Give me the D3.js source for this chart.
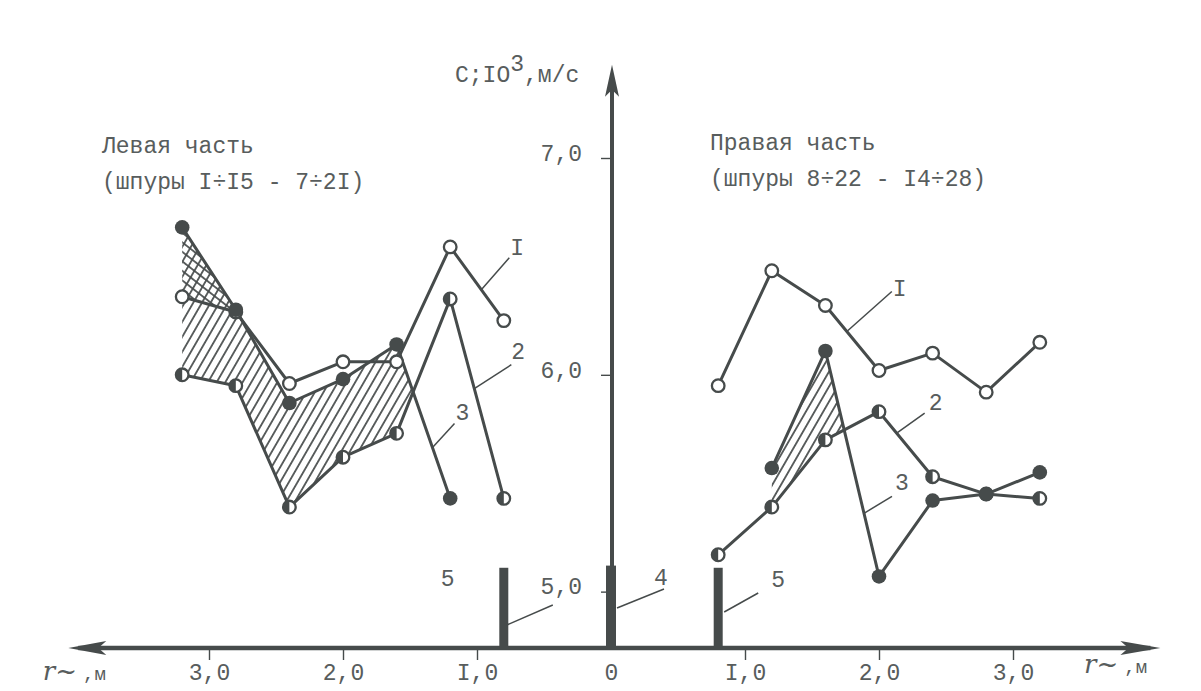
<!DOCTYPE html>
<html>
<head>
<meta charset="utf-8">
<script src="https://cdn.jsdelivr.net/npm/d3@7"></script>
<style>
  html, body { margin: 0; padding: 0; background: #ffffff; }
  svg { display: block; }
  text { font-family: "Liberation Mono", "DejaVu Sans Mono", monospace; fill: #585d5d; }
</style>
</head>
<body>
<svg id="chart" width="1201" height="691"></svg>
<script>
// ---------- data ----------
const distances = [0.8, 1.2, 1.6, 2.0, 2.4, 2.8, 3.2];          // r, m (both sides)
// Left part (шпуры I÷I5 - 7÷2I)
const leftCurve1 = [6.25, 6.59, 6.06, 6.06, 5.96, 6.29, 6.36];   // open circles, "I"
const leftCurve2 = [5.43, 6.35, 5.73, 5.62, 5.39, 5.95, 6.00];   // half-filled, "2"
const leftCurve3 = [null, 5.43, 6.14, 5.98, 5.87, 6.30, 6.68];   // filled, "3"
// Right part (шпуры 8÷22 - I4÷28)
const rightCurve1 = [5.95, 6.48, 6.32, 6.02, 6.10, 5.92, 6.15];
const rightCurve2 = [5.17, 5.39, 5.70, 5.83, 5.53, 5.45, 5.43];
const rightCurve3 = [null, 5.57, 6.11, 5.07, 5.42, 5.45, 5.55];
// Bars 4 (centre) and 5 (both sides)
const barPositions = [-0.8, 0, 0.8];
const barTops = [5.11, 5.12, 5.11];
const barLabels = ["5", "4", "5"];
// Axis ticks
const xTickValues = [-3, -2, -1, 0, 1, 2, 3];
const yTickValues = [5, 6, 7];
const yAxisTitle = ["C;IO", "3", ",м/с"];
const xAxisTitle = ["r", ",м"];
const leftTitle = ["Левая часть", "(шпуры I÷I5 - 7÷2I)"];
const rightTitle = ["Правая часть", "(шпуры 8÷22 - I4÷28)"];

// ---------- setup ----------
const svg = d3.select("#chart");
const INK = "#464b4b";
const TXT = "#585d5d";
const x = d3.scaleLinear().domain([-4, 4]).range([75, 1147]);
const y = d3.scaleLinear().domain([4.74, 7]).range([648, 158]);
const axisY = y(4.74);
const axisX = x(0);
const fmt = v => v === 0 ? "0" : Math.abs(v).toFixed(1).replace(".", ",").replace(/1/g, "I");

const defs = svg.append("defs");
function hatch(id, angle, horizontal) {
  const p = defs.append("pattern").attr("id", id).attr("patternUnits", "userSpaceOnUse")
    .attr("width", 7.5).attr("height", 7.5).attr("patternTransform", `rotate(${angle})`);
  if (horizontal) p.append("line").attr("x1", 0).attr("x2", 7.5).attr("y1", 3.75).attr("y2", 3.75);
  else p.append("line").attr("x1", 3.75).attr("x2", 3.75).attr("y1", 0).attr("y2", 7.5);
  p.select("line").attr("stroke", INK).attr("stroke-width", 1.7);
}
hatch("hatchSlash", 30, false);
hatch("hatchBack", 38, true);

// ---------- hatched regions (between two curves until they cross) ----------
function regionPoints(side, upper, lower, start, step) {
  const top = [], bot = [];
  let i = start;
  while (i >= 0 && i < distances.length && upper[i] != null && lower[i] != null) {
    const d = upper[i] - lower[i];
    if (d < 0) {
      const j = i - step;
      const dPrev = upper[j] - lower[j];
      const t = dPrev / (dPrev - d);
      const r = distances[j] + t * (distances[i] - distances[j]);
      const v = upper[j] + t * (upper[i] - upper[j]);
      top.push([x(side * r), y(v)]);
      break;
    }
    top.push([x(side * distances[i]), y(upper[i])]);
    bot.push([x(side * distances[i]), y(lower[i])]);
    i += step;
  }
  return top.concat(bot.reverse());
}
const regions = [
  {pts: regionPoints(-1, leftCurve3, leftCurve2, 6, -1), fill: "url(#hatchSlash)"},
  {pts: regionPoints(-1, leftCurve3, leftCurve1, 6, -1), fill: "url(#hatchBack)"},
  {pts: regionPoints(1, rightCurve3, rightCurve2, 1, 1), fill: "url(#hatchSlash)"}
];
svg.append("g").selectAll("path").data(regions).join("path")
  .attr("d", d => "M" + d.pts.map(p => p.join(",")).join("L") + "Z")
  .attr("fill", d => d.fill).attr("stroke", "none");

// ---------- axes ----------
const gx = svg.append("g").attr("transform", `translate(0,${axisY})`)
  .call(d3.axisBottom(x).tickValues(xTickValues).tickSize(12).tickPadding(4).tickFormat(fmt));
gx.select(".domain").remove();
gx.selectAll(".tick line").attr("stroke", INK).attr("stroke-width", 1.4)
  .attr("opacity", d => d === 0 ? 0 : 1);
gx.selectAll(".tick text").attr("font-size", 23).attr("fill", TXT)
  .attr("font-family", "Liberation Mono, DejaVu Sans Mono, monospace");

const gy = svg.append("g").attr("transform", `translate(${axisX},0)`)
  .call(d3.axisLeft(y).tickValues(yTickValues).tickSize(10).tickPadding(19)
    .tickFormat(v => v.toFixed(1).replace(".", ",")));
gy.select(".domain").remove();
gy.selectAll(".tick line").attr("stroke", INK).attr("stroke-width", 1.4);
gy.selectAll(".tick text").attr("font-size", 23).attr("fill", TXT).attr("dy", "0.1em")
  .attr("font-family", "Liberation Mono, DejaVu Sans Mono, monospace");

// horizontal axis with arrows on both ends
const xL = x(-4.05), xR = x(4.1);
svg.append("line").attr("x1", xL + 10).attr("x2", xR - 10).attr("y1", axisY).attr("y2", axisY)
  .attr("stroke", INK).attr("stroke-width", 4.5);
svg.append("path").attr("d", `M${xL},${axisY} L${xL + 38},${axisY - 7} L${xL + 30},${axisY} L${xL + 38},${axisY + 7} Z`).attr("fill", INK);
svg.append("path").attr("d", `M${xR},${axisY} L${xR - 40},${axisY - 7} L${xR - 32},${axisY} L${xR - 40},${axisY + 7} Z`).attr("fill", INK);
// vertical axis with arrow
const yTop = y(7.43);
svg.append("line").attr("x1", axisX + 1).attr("x2", axisX + 1).attr("y1", axisY).attr("y2", yTop + 10)
  .attr("stroke", INK).attr("stroke-width", 4);
svg.append("path").attr("d", `M${axisX + 1},${yTop} L${axisX - 6},${yTop + 32} L${axisX + 1},${yTop + 25} L${axisX + 8},${yTop + 32} Z`).attr("fill", INK);

// axis titles
const yt = svg.append("text").attr("x", 455).attr("y", 82).attr("font-size", 23);
yt.append("tspan").text(yAxisTitle[0]);
yt.append("tspan").attr("dy", -11).attr("font-size", 23).text(yAxisTitle[1]);
yt.append("tspan").attr("dy", 11).text(yAxisTitle[2]);
[[x(-4.24), 680], [x(3.53), 673]].forEach(([px, py]) => {
  const t = svg.append("text").attr("x", px).attr("y", py);
  t.append("tspan").attr("font-size", 26).attr("font-style", "italic")
    .attr("font-family", "DejaVu Serif, serif").text(xAxisTitle[0] + "~");
  t.append("tspan").attr("font-size", 19).attr("dx", 6).text(xAxisTitle[1]);
});

// side titles
[[102, 153, leftTitle], [710, 150, rightTitle]].forEach(([px, py, lines]) => {
  lines.forEach((s, i) => svg.append("text").attr("x", px).attr("y", py + i * 36)
    .attr("font-size", 23).attr("xml:space", "preserve").text(s));
});

// ---------- bars ----------
svg.append("g").selectAll("rect").data(barPositions).join("rect")
  .attr("x", (d, i) => x(d) - (i === 1 ? 5 : 4.5))
  .attr("width", (d, i) => i === 1 ? 10 : 9)
  .attr("y", (d, i) => y(barTops[i]))
  .attr("height", (d, i) => axisY - y(barTops[i]))
  .attr("fill", INK);

// ---------- curves ----------
const series = [
  {side: -1, vals: leftCurve1, kind: "open"},
  {side: -1, vals: leftCurve2, kind: "half"},
  {side: -1, vals: leftCurve3, kind: "full"},
  {side: 1, vals: rightCurve1, kind: "open"},
  {side: 1, vals: rightCurve2, kind: "half"},
  {side: 1, vals: rightCurve3, kind: "full"}
];
const line = d3.line().defined(d => d.v != null).x(d => x(d.r)).y(d => y(d.v));
series.forEach(s => {
  s.pts = distances.map((r, i) => ({r: s.side * r, v: s.vals[i]}));
});
svg.append("g").selectAll("path").data(series).join("path")
  .attr("d", s => line(s.pts)).attr("fill", "none")
  .attr("stroke", INK).attr("stroke-width", 3).attr("stroke-linejoin", "round");

// ---------- annotation leaders ----------
function along(s, i, t) {
  const a = s.pts[i], b = s.pts[i + 1];
  return [x(a.r + t * (b.r - a.r)), y(a.v + t * (b.v - a.v))];
}
// leader: point on segment i..i+1 of series at fraction t, then offset (dx,dy); label offset (tx,ty)
const notes = [
  {s: 0, i: 0, t: 0.42, dx: 28, dy: -32, tx: 1, ty: -3, label: "I"},
  {s: 1, i: 0, t: 0.55, dx: 37, dy: -24, tx: 0, ty: -6, label: "2"},
  {s: 2, i: 1, t: 0.33, dx: 22, dy: -24, tx: 1, ty: -4, label: "3"},
  {s: 3, i: 2, t: 0.4, dx: 45, dy: -40, tx: 1, ty: 5, label: "I"},
  {s: 4, i: 3, t: 0.33, dx: 28, dy: -20, tx: 4, ty: -3, label: "2"},
  {s: 5, i: 2, t: 0.72, dx: 28, dy: -17, tx: 3, ty: -6, label: "3"}
];
const gn = svg.append("g");
notes.forEach(n => {
  const s = series[n.s];
  const [ex, ey] = along(s, n.i, n.t);
  const sx = ex + n.dx, sy = ey + n.dy;
  gn.append("line").attr("x1", ex).attr("y1", ey).attr("x2", sx).attr("y2", sy)
    .attr("stroke", INK).attr("stroke-width", 1.5);
  gn.append("text").attr("x", sx + n.tx).attr("y", sy + n.ty).attr("font-size", 23).text(n.label);
});
// bar leaders and labels
const barNotes = [
  {lead: [[3, -23], [49, -43]], text: [-63, -62]},
  {lead: [[6, -40], [53, -59]], text: [43, -63]},
  {lead: [[6, -36], [40, -55]], text: [53, -61]}
];
barPositions.forEach((p, i) => {
  const bx = x(p), bn = barNotes[i];
  gn.append("line").attr("x1", bx + bn.lead[0][0]).attr("y1", axisY + bn.lead[0][1])
    .attr("x2", bx + bn.lead[1][0]).attr("y2", axisY + bn.lead[1][1])
    .attr("stroke", INK).attr("stroke-width", 1.5);
  gn.append("text").attr("x", bx + bn.text[0]).attr("y", axisY + bn.text[1])
    .attr("font-size", 23).text(barLabels[i]);
});

// ---------- markers ----------
const R = 6.3;
const gm = svg.append("g");
series.forEach(s => {
  s.pts.filter(d => d.v != null).forEach(d => {
    const g = gm.append("g").attr("transform", `translate(${x(d.r)},${y(d.v)})`);
    if (s.kind === "full") {
      g.append("circle").attr("r", R + 1).attr("fill", INK);
    } else {
      g.append("circle").attr("r", R).attr("fill", "#ffffff").attr("stroke", INK).attr("stroke-width", 2.3);
      if (s.kind === "half") {
        g.append("path").attr("d", `M0,${-R} A${R},${R} 0 0 0 0,${R} Z`).attr("fill", INK);
      }
    }
  });
});
</script>
</body>
</html>
